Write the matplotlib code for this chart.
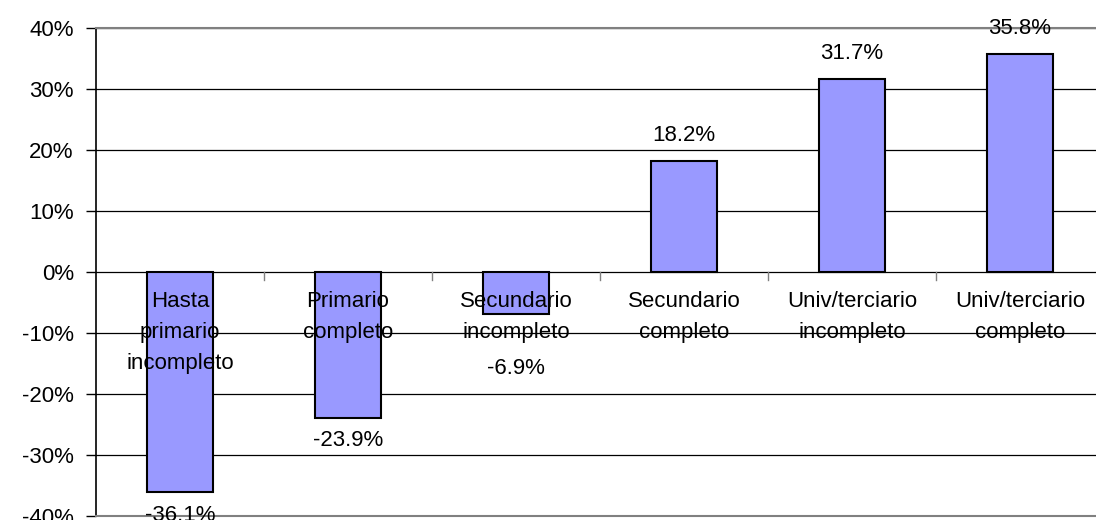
import numpy as np
import matplotlib.pyplot as plt

categories = ["Hasta\nprimario\nincompleto", "Primario\ncompleto", "Secundario\nincompleto",
              "Secundario\ncompleto", "Univ/terciario\nincompleto", "Univ/terciario\ncompleto"]
values = [-36.1, -23.9, -6.9, 18.2, 31.7, 35.8]
yticks = [-40, -30, -20, -10, 0, 10, 20, 30, 40]

plt.rcParams['font.family'] = ['Liberation Sans', 'DejaVu Sans']
fs = 16

fig = plt.figure(figsize=(10.96, 5.2), dpi=100)
ax = fig.add_axes([96 / 1096, 4 / 520, 1008 / 1096, 488 / 520])

x = np.arange(len(values))
ax.bar(x, values, width=0.39, color="#9999FF", edgecolor="black", linewidth=1.5, zorder=3)

ax.set_xlim(-0.5, len(values) - 0.5)
ax.set_ylim(-40, 40)
ax.set_yticks(yticks)
ax.set_yticklabels([f"{t}%" for t in yticks])
ax.yaxis.grid(True, color="black", linewidth=0.9, zorder=0)
ax.set_axisbelow(True)
ax.tick_params(axis="y", length=7, width=1, pad=9, labelsize=fs)

# category labels hang just below the zero line
ax.set_xticks([])
for i, lab in enumerate(categories):
    ax.annotate(lab, (i, 0), xytext=(0, -14), textcoords="offset points",
                ha="center", va="top", linespacing=1.62, fontsize=fs, zorder=5)
for b in np.arange(0.5, len(values) - 0.5, 1.0):
    ax.plot([b, b], [0, -1.3], color="gray", linewidth=1, zorder=2)

# value labels (short negative bars push their label below the category text)
for i, v in enumerate(values):
    if v >= 0:
        ax.annotate(f"{v:.1f}%", (i, v), xytext=(0, 10.5), textcoords="offset points",
                    ha="center", va="bottom", fontsize=fs, zorder=5)
    else:
        ax.annotate(f"{v:.1f}%", (i, min(v, -12)), xytext=(0, -9), textcoords="offset points",
                    ha="center", va="top", fontsize=fs, zorder=5, annotation_clip=False)

for side in ["top", "bottom", "right"]:
    ax.spines[side].set_color("gray")
    ax.spines[side].set_linewidth(1.5)
ax.spines["left"].set_color("black")
ax.spines["left"].set_linewidth(1.2)

fig.savefig("out.png", dpi=100)
